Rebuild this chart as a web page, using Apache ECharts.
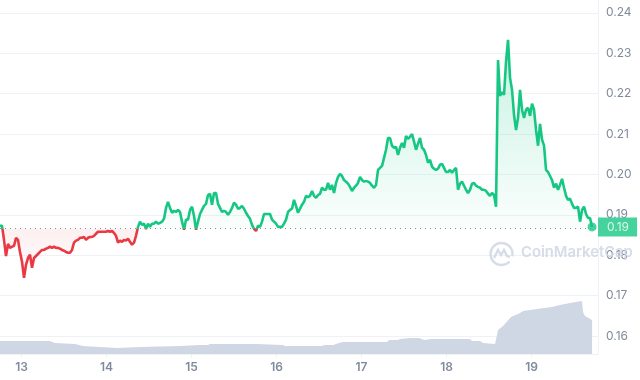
<!DOCTYPE html>
<html><head><meta charset="utf-8">
<style>html,body{margin:0;padding:0;background:#fff}#c{width:640px;height:380px}</style>
<script src="https://cdn.jsdelivr.net/npm/echarts@6/dist/echarts.min.js"></script></head>
<body><div id="c"></div>
<script>
const dayTicks = [13,14,15,16,17,18,19];
const priceTicks = [0.16,0.17,0.18,0.19,0.20,0.21,0.22,0.23,0.24];
const baselinePrice = 0.1866;
const firstDay = 12.747, dayStep = 0.02353;
const prices = [
.1873,.1873,.1838,.1798,.1828,.1818,.1821,.1823,.1843,.1838,.1808,.1784,.1744,.1776,.1793,.1801,.1769,.1793,.1798,.1803,
.1808,.1813,.1813,.1816,.1818,.1821,.1818,.1821,.1818,.1818,.1816,.1813,.1811,.1808,.1806,.1806,.1813,.1831,.1836,.1838,
.1843,.1843,.1845,.1838,.1843,.1845,.1845,.1848,.1853,.1858,.1858,.1858,.1858,.1858,.1860,.1858,.1860,.1855,.1848,.1831,
.1836,.1833,.1838,.1836,.1841,.1833,.1826,.1831,.1848,.1870,.1883,.1875,.1878,.1865,.1878,.1870,.1878,.1878,.1883,.1878,
.1880,.1883,.1890,.1917,.1932,.1917,.1905,.1910,.1907,.1912,.1907,.1883,.1863,.1888,.1888,.1912,.1920,.1897,.1863,.1883,
.1902,.1912,.1922,.1927,.1949,.1952,.1925,.1954,.1954,.1927,.1917,.1907,.1910,.1907,.1900,.1907,.1917,.1930,.1925,.1915,
.1917,.1922,.1915,.1905,.1897,.1890,.1875,.1865,.1860,.1873,.1870,.1883,.1902,.1902,.1902,.1902,.1888,.1883,.1878,.1870,
.1870,.1870,.1878,.1888,.1907,.1912,.1915,.1937,.1922,.1905,.1915,.1925,.1932,.1947,.1944,.1947,.1959,.1947,.1942,.1949,
.1952,.1967,.1962,.1962,.1979,.1962,.1974,.1954,.1979,.1994,.2001,.1996,.1986,.1982,.1977,.1969,.1959,.1967,.1972,.1979,
.1994,.1986,.1982,.1984,.1982,.1979,.1972,.1967,.1974,.2011,.2016,.2021,.2041,.2061,.2090,.2090,.2071,.2066,.2068,.2048,
.2066,.2078,.2066,.2095,.2088,.2093,.2100,.2081,.2061,.2076,.2090,.2066,.2061,.2048,.2029,.2036,.2019,.2014,.2011,.2014,
.2024,.2026,.2016,.2006,.2006,.2011,.2004,.2011,.2016,.1962,.1977,.1982,.1972,.1962,.1954,.1962,.1977,.1979,.1972,.1969,
.1967,.1962,.1962,.1959,.1952,.1947,.1954,.1949,.1920,.2283,.2194,.2204,.2197,.2279,.2333,.2239,.2209,.2147,.2110,.2140,
.2209,.2160,.2140,.2160,.2165,.2145,.2175,.2160,.2110,.2071,.2125,.2086,.2071,.2011,.2006,.1996,.1986,.1967,.1977,.1962,
.1974,.1989,.1967,.1947,.1937,.1940,.1927,.1917,.1917,.1920,.1883,.1912,.1920,.1902,.1892,.1892,.1870
];
const volumeDays = [12.747,13.335,13.394,13.629,13.724,13.924,14.124,14.394,14.865,15.100,15.194,15.218,15.759,15.782,16.076,16.100,16.535,16.559,16.665,16.735,16.782,17.300,17.324,17.429,17.453,17.571,17.676,17.735,17.829,18.276,18.300,18.394,18.429,18.571,18.594,18.606,18.665,18.759,18.865,18.900,19.065,19.241,19.335,19.453,19.594,19.606,19.629,19.712];
const volumes = [26,26,22,20,16,14,12,14,16,18,18,20,20,18,18,16,16,18,18,22,24,24,28,28,30,32,32,28,30,30,26,26,22,20,20,48,56,74,82,86,90,94,98,102,106,84,76,68];

const GREEN='#16c784', RED='#ea3943', GRID='#eff2f5', TEXT='#808a9d', FONT='Inter';
const priceData = prices.map((p,i)=>[firstDay+i*dayStep,p]);
const volumeData = volumes.map((v,i)=>[volumeDays[i],v]);

const chart = echarts.init(document.getElementById('c'),null,{renderer:'canvas'});
chart.setOption({
  animation:false,
  backgroundColor:'#fff',
  grid:{left:0,right:42,top:0,bottom:26,containLabel:false},
  xAxis:{type:'value',min:12.747,max:19.782,
    axisLine:{show:true,lineStyle:{color:GRID,width:1}},
    axisTick:{show:true,length:4,lineStyle:{color:GRID},customValues:dayTicks},
    axisLabel:{customValues:dayTicks,color:TEXT,fontFamily:FONT,fontSize:12,fontWeight:600,margin:7,formatter:v=>String(v)},
    splitLine:{show:false}},
  yAxis:[
   {type:'value',position:'right',min:0.15554,max:0.24317,
    axisLine:{show:true,lineStyle:{color:GRID,width:1}},
    axisTick:{show:false,customValues:priceTicks},
    axisLabel:{customValues:priceTicks,color:TEXT,fontFamily:FONT,fontSize:12,margin:8,formatter:v=>v.toFixed(2)},
    splitLine:{show:true,lineStyle:{color:GRID,width:1}}},
   {type:'value',show:false,min:0,max:708,splitLine:{show:false}}
  ],
  visualMap:{show:false,type:'piecewise',seriesIndex:1,dimension:1,
    pieces:[{gt:baselinePrice,lte:1,color:GREEN},{gt:0,lte:baselinePrice,color:RED}]},
  series:[
   {type:'line',name:'volume',yAxisIndex:1,data:volumeData,symbol:'none',lineStyle:{width:0},
    areaStyle:{color:'#cfd6e4',opacity:1},z:1},
   {type:'line',name:'price',yAxisIndex:0,data:priceData,symbol:'none',lineStyle:{width:2.6},z:3,
    areaStyle:{origin:baselinePrice,opacity:1,color:{type:'linear',global:true,x:0,y:40,x2:0,y2:285,colorStops:[
      {offset:0,color:'rgba(22,199,132,0.24)'},
      {offset:0.77,color:'rgba(22,199,132,0.015)'},
      {offset:0.77,color:'rgba(234,57,67,0.08)'},
      {offset:1,color:'rgba(234,57,67,0)'}]}},
    markLine:{silent:true,symbol:'none',precision:4,label:{show:false},
      lineStyle:{color:TEXT,width:1,type:[1,4]},data:[{yAxis:baselinePrice}]}},
   {type:'scatter',name:'last',yAxisIndex:0,data:[priceData[priceData.length-1]],symbol:'circle',symbolSize:9,z:5,
    itemStyle:{color:GREEN},
    label:{show:true,position:'right',distance:1.5,formatter:p=>p.value[1].toFixed(2),color:'#fff',
      backgroundColor:GREEN,padding:[4,8,3,9],fontFamily:FONT,fontSize:12}}
  ],
  graphic:[
   {type:'arc',z:20,silent:true,shape:{cx:501.5,cy:254,r:11,startAngle:0.75,endAngle:0.2,clockwise:true},
    style:{fill:null,stroke:'#cfd6e4',lineWidth:2.4,opacity:0.85}},
   {type:'polyline',z:20,silent:true,shape:{points:[[494,258],[498,250],[501,255],[504,250],[507,256],[510,257]]},
    style:{fill:null,stroke:'#cfd6e4',lineWidth:2.4,opacity:0.85}},
   {type:'text',x:521,y:245,z:20,silent:true,
    style:{text:'CoinMarketCap',fill:'#cfd6e4',opacity:0.85,font:'600 14.8px Inter'}}
  ]
});
</script></body></html>
